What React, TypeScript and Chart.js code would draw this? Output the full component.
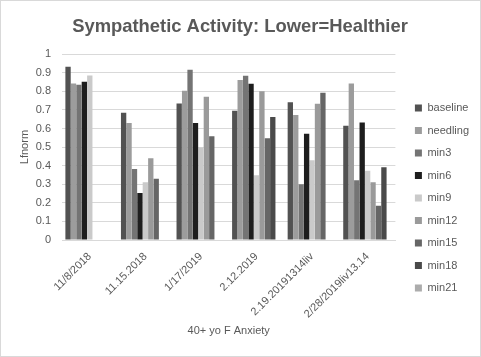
import React, { useEffect, useRef } from "react";
import { Chart, registerables } from "chart.js";

Chart.register(...registerables);

const categories = ["11/8/2018", "11.15.2018", "1/17/2019", "2.12.2019", "2.19.20191314liv", "2/28/2019liv13.14"];
const seriesNames = ["baseline", "needling", "min3", "min6", "min9", "min12", "min15", "min18", "min21"];
const baseline = [0.932, 0.684, 0.734, 0.695, 0.741, 0.614];
const needling = [0.842, 0.63, 0.803, 0.86, 0.673, 0.842];
const min3 = [0.835, 0.382, 0.916, 0.883, 0.3, 0.321];
const min6 = [0.851, 0.253, 0.63, 0.84, 0.571, 0.632];
const min9 = [0.885, 0.311, 0.497, 0.348, 0.429, 0.372];
const min12 = [null, 0.44, 0.77, 0.8, 0.733, 0.311];
const min15 = [null, 0.329, 0.558, 0.548, 0.792, 0.185];
const min18 = [null, null, null, 0.662, null, 0.391];
const min21 = [null, null, null, null, null, null];
const seriesValues = [baseline, needling, min3, min6, min9, min12, min15, min18, min21];
const seriesColors = ["#525252", "#9c9c9c", "#747474", "#1e1e1e", "#cacaca", "#9a9a9a", "#666666", "#4a4a4a", "#acacac"];

export default function App() {
  const ref = useRef<HTMLCanvasElement | null>(null);
  useEffect(() => {
    document.body.style.margin = "0";
    const font = "'Liberation Sans', Arial, sans-serif";
    const chart = new Chart(ref.current as HTMLCanvasElement, {
      type: "bar",
      data: {
        labels: categories,
        datasets: seriesNames.map((n, i) => ({
          label: n,
          data: seriesValues[i],
          backgroundColor: seriesColors[i],
          borderWidth: 0,
          categoryPercentage: 0.88,
          barPercentage: 0.98,
          yAxisID: "y",
        })),
      },
      options: {
        animation: false,
        responsive: false,
        maintainAspectRatio: false,
        layout: { padding: { left: 0, right: 1, bottom: 14, top: 0 } },
        plugins: {
          title: {
            display: true,
            text: "Sympathetic Activity: Lower=Healthier",
            color: "#595959",
            font: { family: font, size: 18.4, weight: "bold" },
            padding: { top: 15, bottom: 16 },
          },
          legend: {
            position: "right",
            title: {
              display: true,
              text: "",
              font: { family: font, size: 10, lineHeight: "12px" },
              padding: { top: 41, bottom: 0 },
            },
            labels: {
              color: "#595959",
              font: { family: font, size: 11 },
              boxWidth: 7,
              boxHeight: 7,
              padding: 11.5,
            },
          },
          tooltip: { enabled: false },
        },
        scales: {
          x: {
            grid: { display: false },
            border: { color: "#d9d9d9" },
            ticks: {
              color: "#595959",
              font: { family: font, size: 11 },
              maxRotation: 45,
              minRotation: 45,
              padding: 2,
            },
            title: {
              display: true,
              text: "40+ yo F Anxiety",
              color: "#595959",
              font: { family: font, size: 11 },
              padding: { top: 2, bottom: 4 },
            },
          },
          y: {
            min: 0,
            max: 1,
            grid: { color: "#d9d9d9", drawTicks: false },
            border: { display: false },
            afterFit: (s: any) => {
              s.width = 61;
            },
            ticks: {
              stepSize: 0.1,
              color: "#595959",
              font: { family: font, size: 11 },
              padding: 11,
              callback: (v: any) => String(Math.round(Number(v) * 10) / 10),
            },
            title: {
              display: true,
              text: "Lfnorm",
              color: "#595959",
              font: { family: font, size: 11 },
              padding: { top: 17, bottom: 1 },
            },
          },
          gap: {
            type: "linear",
            position: "right",
            display: true,
            grid: { display: false },
            border: { display: false },
            ticks: { display: false },
            afterFit: (s: any) => {
              s.width = 8;
            },
          },
        },
      },
    });
    return () => chart.destroy();
  }, []);
  return (
    <div style={{ width: 481, height: 357, boxSizing: "border-box", border: "1px solid #d9d9d9", background: "#fff" }}>
      <canvas ref={ref} width={479} height={355} style={{ display: "block" }} />
    </div>
  );
}
